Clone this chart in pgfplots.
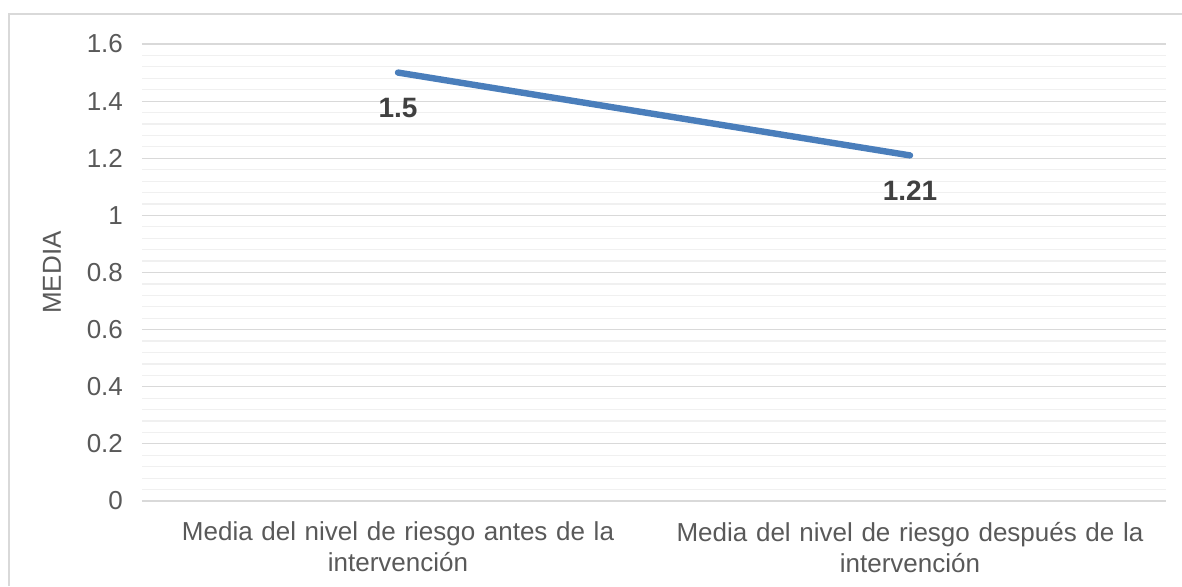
\documentclass[border=0pt]{standalone}
\usepackage{pgfplots}
\pgfplotsset{compat=1.18}
\usepackage{fontspec}
\setmainfont{Liberation Sans}
\definecolor{serie}{HTML}{4A7EBB}
\definecolor{ejes}{HTML}{595959}
\definecolor{etiq}{HTML}{404040}
\definecolor{gmaj}{HTML}{D9D9D9}
\definecolor{gmin}{HTML}{F0F0F0}
\begin{document}
\begin{tikzpicture}
% marco exterior del gráfico
\useasboundingbox (0pt,0pt) rectangle (591pt,293pt);
\draw[gmaj, line width=1pt] (4.5pt,0pt) -- (4.5pt,286pt) -- (591pt,286pt);
\begin{axis}[
  at={(71pt,42.5pt)}, anchor=south west,
  scale only axis, width=512pt, height=228.5pt,
  xmin=-0.5, xmax=1.5, ymin=0, ymax=1.6,
  axis line style={draw=none},
  xtick={0,1},
  xticklabels={Media del nivel de riesgo antes de la\\intervención,
               Media del nivel de riesgo después de la\\intervención},
  xticklabel style={align=center, text width=260pt, font=\fontsize{13}{15.5}\selectfont, text=ejes, yshift=-7pt},
  ytick={0,0.2,0.4,0.6,0.8,1,1.2,1.4,1.6},
  yticklabels={0,0.2,0.4,0.6,0.8,1,1.2,1.4,1.6},
  yticklabel style={font=\fontsize{13}{15}\selectfont, text=ejes, xshift=-6pt},
  minor ytick={0.04,0.08,...,1.59},
  major tick length=0pt, minor tick length=0pt,
  ymajorgrids, yminorgrids,
  major grid style={gmaj, line width=0.6pt},
  minor grid style={gmin, line width=0.6pt},
  ylabel={MEDIA},
  ylabel style={font=\fontsize{13}{15}\selectfont, text=ejes, at={(axis description cs:0,0.5)}, anchor=south, yshift=37pt},
  clip=false,
  nodes near coords,
  point meta=explicit symbolic,
  every node near coord/.append style={anchor=north, yshift=-8pt, font=\bfseries\fontsize{14}{16}\selectfont, text=etiq},
]
\addplot[serie, line width=3.2pt, line cap=round] table[meta=lab] {
x y lab
0 1.5 1.5
1 1.21 1.21
};
\end{axis}
\end{tikzpicture}
\end{document}
